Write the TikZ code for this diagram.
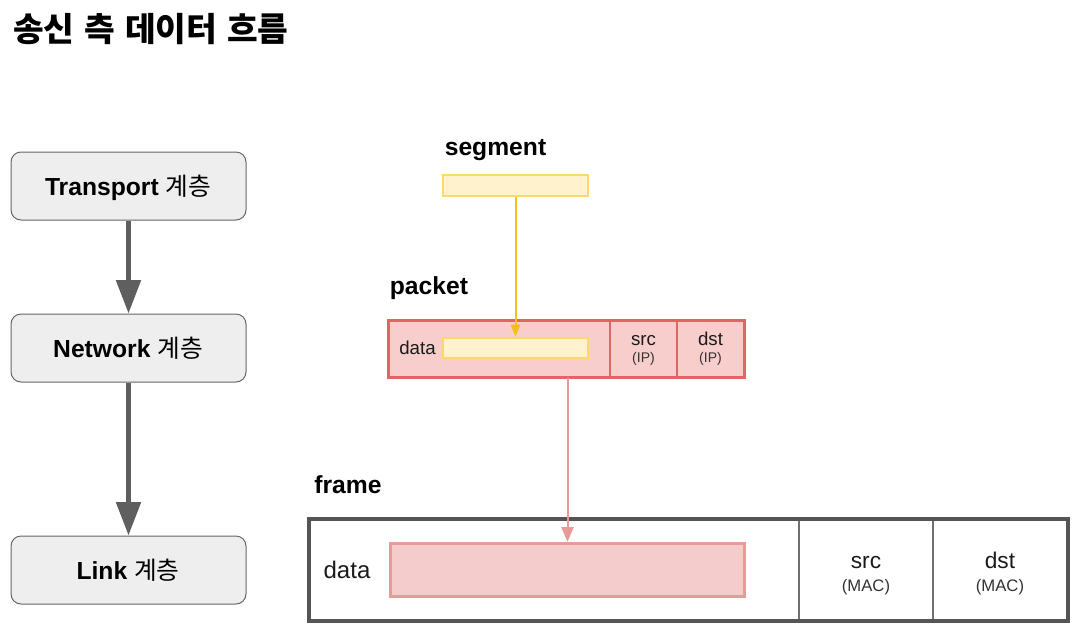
\documentclass[tikz,border=0pt]{standalone}
\usepackage{fontspec}
\setmainfont{Liberation Sans}
\newfontfamily\kr{Noto Sans CJK KR}
\usetikzlibrary{arrows.meta}
\definecolor{layerfill}{HTML}{EEEEEE}
\definecolor{layerline}{HTML}{666666}
\definecolor{arrowgray}{HTML}{5F5F5F}
\definecolor{segfill}{HTML}{FFF2CC}
\definecolor{segline}{HTML}{FFD966}
\definecolor{segarrow}{HTML}{F2BE22}
\definecolor{pktfill}{HTML}{F8CECC}
\definecolor{pktline}{HTML}{E06666}
\definecolor{pinkfill}{HTML}{F4CCCC}
\definecolor{pinkline}{HTML}{EA9999}
\definecolor{frameline}{HTML}{555555}
\definecolor{divline}{HTML}{707070}
\definecolor{txt}{HTML}{1A1A1A}
\definecolor{subtxt}{HTML}{333333}
\begin{document}
\begin{tikzpicture}[x=0.75pt,y=-0.75pt,
  layerbox/.style={draw=layerline, fill=layerfill, rounded corners=7.5pt,
    minimum width=176.25pt, minimum height=51pt, inner sep=0pt, line width=0.75pt},
  layertext/.style={anchor=base, inner sep=0pt, text=black,
    font=\fontsize{18.5}{22}\selectfont},
  layerarrow/.style={draw=arrowgray, line width=3.75pt,
    -{Triangle[width=18pt,length=25pt]}},
  seglabel/.style={anchor=base, font=\bfseries\fontsize{18.5}{22}\selectfont, text=black, inner sep=0pt},
  segbox/.style={draw=segline, fill=segfill, line width=1.5pt,
    minimum width=109pt, minimum height=15.5pt, inner sep=0pt},
  pktcell/.style={draw=pktline, fill=pktfill, line width=1.1pt,
    minimum height=42pt, inner sep=0pt},
  framecell/.style={draw=divline, fill=white, line width=1.1pt,
    minimum height=75pt, inner sep=0pt},
  cellmain/.style={anchor=base, font=\fontsize{#1}{#1}\selectfont, text=txt, inner sep=0pt},
  cellsub/.style={anchor=base, font=\fontsize{#1}{#1}\selectfont, text=subtxt, inner sep=0pt},
]
\useasboundingbox (0,0) rectangle (1088,643);

% title
\node[anchor=base west, inner sep=0pt, font=\kr\bfseries\fontsize{25}{30}\selectfont, text=black]
  (title) at (13,41) {송신\hspace{0.3em}측\hspace{0.3em}데이터\hspace{0.3em}흐름};

% layers
\node[layerbox] (transport) at (128.5,186) {};
\node[layerbox] (network) at (128.5,348) {};
\node[layerbox] (link) at (128.5,570) {};
\node[layertext] (transporttxt) at (128,195) {\textbf{Transport} {\kr 계층}};
\node[layertext] (networktxt) at (128,357) {\textbf{Network} {\kr 계층}};
\node[layertext] (linktxt) at (128,579) {\textbf{Link} {\kr 계층}};
\draw[layerarrow] (transport.south) -- (network.north);
\draw[layerarrow] (network.south) -- (link.north);

% segment
\node[seglabel] (seglabel) at (495.5,155) {segment};
\node[segbox] (segment) at (515.5,185.5) {};

% packet
\node[seglabel] (pktlabel) at (429,294) {packet};
\node[pktcell, minimum width=165.75pt] (pdata) at (499.5,349) {};
\node[pktcell, minimum width=50.25pt] (psrc) at (643.5,349) {};
\node[pktcell, minimum width=50.25pt] (pdst) at (710.5,349) {};
\draw[pktline, line width=1.6pt] (pdata.north west) rectangle (pdst.south east);
\node[cellmain=14] (pdatatxt) at (417.5,354) {data};
\node[segbox] (pinner) at (515.5,348) {};
\node[cellmain=14] (psrctxt) at (643.5,345) {src};
\node[cellsub=10.5] (psrcsub) at (643.5,362.5) {(IP)};
\node[cellmain=14] (pdsttxt) at (710.5,345) {dst};
\node[cellsub=10.5] (pdstsub) at (710.5,362.5) {(IP)};

\draw[segarrow, line width=1.5pt, -{Triangle[width=7pt,length=9pt]}]
  (segment.south) -- (pinner.north);

% frame
\node[seglabel] (framelabel) at (348,493) {frame};
\node[framecell, minimum width=366.75pt] (fdata) at (554.5,570) {};
\node[framecell, minimum width=100.5pt] (fsrc) at (866,570) {};
\node[framecell, minimum width=100.5pt] (fdst) at (1000,570) {};
\draw[frameline, line width=3pt] (fdata.north west) rectangle (fdst.south east);
\node[cellmain=18] (fdatatxt) at (347,578.5) {data};
\node[draw=pinkline, fill=pinkfill, line width=2.25pt, minimum width=265.5pt,
  minimum height=40pt, inner sep=0pt] (finner) at (567.5,570) {};
\node[cellmain=17] (fsrctxt) at (866,568) {src};
\node[cellsub=12.5] (fsrcsub) at (866,591) {(MAC)};
\node[cellmain=17] (fdsttxt) at (1000,568) {dst};
\node[cellsub=12.5] (fdstsub) at (1000,591) {(MAC)};

\draw[pinkline, line width=1.5pt, -{Triangle[width=9pt,length=11pt]}]
  (finner.north |- pdata.south) -- (finner.north);
\end{tikzpicture}
\end{document}
